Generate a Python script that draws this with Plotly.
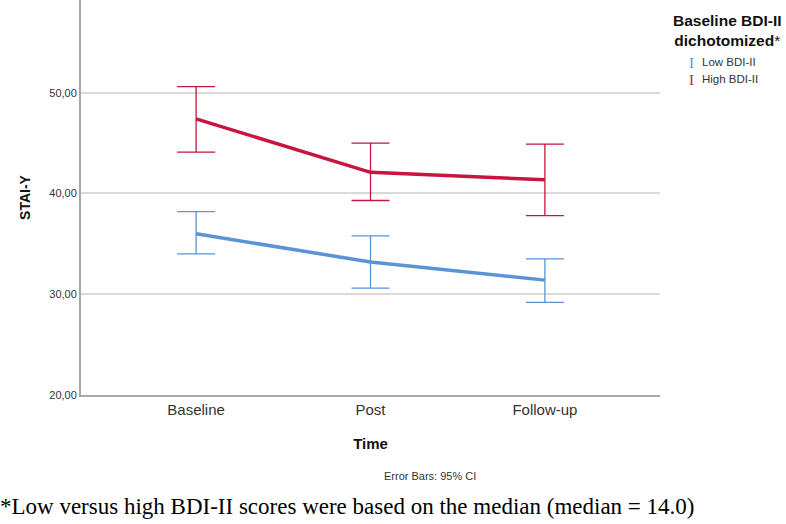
import plotly.graph_objects as go

categories = ["Baseline", "Post", "Follow-up"]
series_names = ["Low BDI-II", "High BDI-II"]
low_mean = [36.0, 33.2, 31.4]
low_upper = [38.2, 35.8, 33.5]
low_lower = [34.0, 30.6, 29.2]
high_mean = [47.4, 42.1, 41.35]
high_upper = [50.6, 45.0, 44.9]
high_lower = [44.1, 39.3, 37.8]
y_ticks = [20, 30, 40, 50]
y_tick_labels = ["20,00", "30,00", "40,00", "50,00"]

colors = ["#5A93D6", "#C8143F"]

fig = go.Figure()
for name, m, up, lo, c in [
    (series_names[0], low_mean, low_upper, low_lower, colors[0]),
    (series_names[1], high_mean, high_upper, high_lower, colors[1]),
]:
    fig.add_trace(go.Scatter(
        x=list(range(len(categories))), y=m, mode="lines", name=name,
        line=dict(color=c, width=3.5),
        error_y=dict(type="data", symmetric=False,
                     array=[u - v for u, v in zip(up, m)],
                     arrayminus=[v - l for v, l in zip(m, lo)],
                     color=c, thickness=1.3, width=19),
        showlegend=False,
    ))

fig.update_layout(
    width=786, height=524,
    margin=dict(l=81, r=126, t=0, b=129),
    plot_bgcolor="white", paper_bgcolor="white",
    font=dict(family="Liberation Sans, Arial, sans-serif", color="#222"),
    xaxis=dict(range=[-0.66, 2.66], tickvals=list(range(len(categories))),
               ticktext=categories, showgrid=False, zeroline=False,
               showline=True, linecolor="#A8A8A8", linewidth=2,
               tickfont=dict(size=15, color="#333"), ticks="",
               title=dict(text="<b>Time</b>", font=dict(size=15, color="#111"), standoff=21)),
    yaxis=dict(range=[20, 59.2], tickvals=y_ticks, ticktext=y_tick_labels,
               showgrid=True, gridcolor="#DADADA", gridwidth=1.5, zeroline=False,
               showline=True, linecolor="#A8A8A8", linewidth=2,
               tickfont=dict(size=11, color="#333"), ticks="",
               title=dict(text="<b>STAI-Y</b>", font=dict(size=14, color="#111"), standoff=15)),
)

PW = 579.0  # plot width in px
PH = 395.0  # plot height in px

def px_x(x):
    return (x - 81) / PW

def px_y(y):
    return 1.0 - y / PH

# Legend (title + I-shaped error bar glyphs)
fig.add_annotation(xref="paper", yref="paper", x=px_x(727), y=px_y(10), yanchor="top", xanchor="center",
                   text="<b>Baseline BDI-II<br>dichotomized</b>*", showarrow=False,
                   font=dict(size=15.5, color="#111"), align="center")
for i, (name, c) in enumerate(zip(series_names, colors)):
    ypos = px_y(53 + 16.5 * i)
    fig.add_annotation(xref="paper", yref="paper", x=px_x(687), y=ypos, xanchor="left", yanchor="top",
                       text="I", showarrow=False, font=dict(size=15, color=c, family="Liberation Serif"))
    fig.add_annotation(xref="paper", yref="paper", x=px_x(700), y=ypos - 0.003, xanchor="left", yanchor="top",
                       text=name, showarrow=False, font=dict(size=11.5, color="#333"))

fig.add_annotation(xref="paper", yref="paper", x=px_x(430), y=px_y(476), xanchor="center", yanchor="middle",
                   text="Error Bars: 95% CI", showarrow=False, font=dict(size=11, color="#333"))
fig.add_annotation(xref="paper", yref="paper", x=px_x(-2), y=px_y(506), xanchor="left", yanchor="middle",
                   text="*Low versus high BDI-II scores were based on the median (median = 14.0)",
                   showarrow=False, font=dict(size=23, color="#000", family="Liberation Serif"))

fig.write_html("out.html", config={"displayModeBar": False},
               post_script="document.body.style.margin='0';")
